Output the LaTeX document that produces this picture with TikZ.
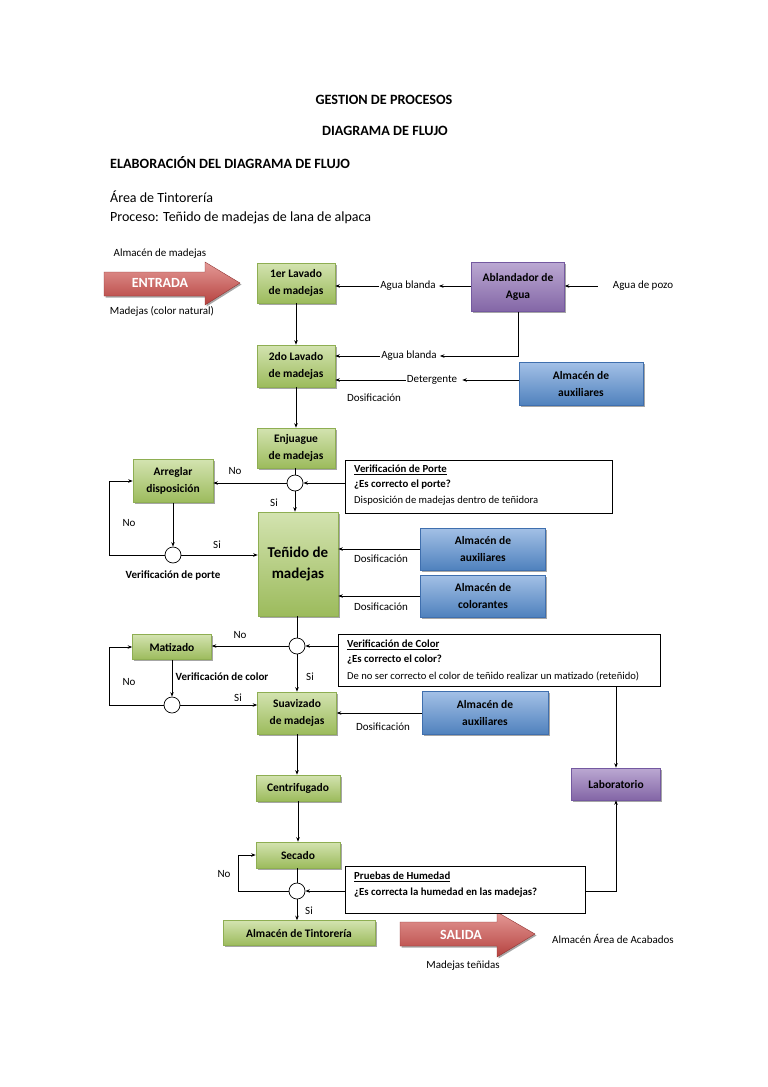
\documentclass[tikz,border=0pt]{standalone}
\usepackage{fontspec}
\setmainfont{Carlito}
\usetikzlibrary{shadows,arrows.meta,calc}
\definecolor{gtop}{HTML}{D3E3B0}
\definecolor{gbot}{HTML}{9CBB5C}
\definecolor{gbord}{HTML}{8EAE52}
\definecolor{ptop}{HTML}{BBA8D2}
\definecolor{pbot}{HTML}{8366A6}
\definecolor{pbord}{HTML}{7459A0}
\definecolor{btop}{HTML}{A3C0E6}
\definecolor{bbot}{HTML}{4F81BD}
\definecolor{bbord}{HTML}{3F6FAE}
\definecolor{rtop}{HTML}{E49A97}
\definecolor{rbot}{HTML}{B5413E}
\begin{document}
\begin{tikzpicture}[x=1pt,y=-1pt,
  shad/.style={drop shadow={shadow xshift=1.5pt,shadow yshift=-1.5pt,opacity=0.35,fill=black}},
  boxtxt/.style={font=\bfseries\fontsize{11.5}{17}\selectfont, align=center, inner sep=0pt},
  gbox/.style={shad, boxtxt, draw=gbord, line width=0.6pt, top color=gtop, bottom color=gbot},
  pbox/.style={shad, boxtxt, draw=pbord, line width=0.6pt, top color=ptop, bottom color=pbot},
  bbox/.style={shad, boxtxt, draw=bbord, line width=0.6pt, top color=btop, bottom color=bbot},
  decis/.style={circle, draw, fill=white, line width=0.7pt, minimum size=16pt, inner sep=0pt},
  info/.style={draw, line width=0.8pt, fill=white, inner sep=0pt},
  lbl/.style={font=\fontsize{11}{13}\selectfont, inner sep=1pt},
  blbl/.style={font=\bfseries\fontsize{11}{13}\selectfont, inner sep=1pt},
  infotxt/.style={font=\fontsize{10.6}{12}\selectfont, inner sep=0pt, anchor=west},
  infob/.style={font=\bfseries\fontsize{10.8}{12}\selectfont, inner sep=0pt, anchor=west},
  arw/.style={-{Stealth[length=4.5pt,width=3.5pt]}, line width=0.8pt},
  ln/.style={line width=0.8pt},
  title/.style={font=\bfseries\fontsize{14.2}{16}\selectfont, inner sep=0pt},
  body/.style={font=\fontsize{14}{16}\selectfont, inner sep=0pt, anchor=west},
  arrowtxt/.style={font=\bfseries\fontsize{14}{16}\selectfont, text=white, inner sep=0pt}
]
\useasboundingbox[fill=white] (0,0) rectangle (768,1087);

% headings
\node[title] (t1) at (384,100) {GESTION DE PROCESOS};
\node[title] (t2) at (385,131) {DIAGRAMA DE FLUJO};
\node[title, anchor=west] (t3) at (110,163) {ELABORACIÓN DEL DIAGRAMA DE FLUJO};
\node[body] (t4) at (110,197) {Área de Tintorería};
\node[body] (t5) at (110,218) {Proceso: Teñido de madejas de lana de alpaca};

% ENTRADA arrow
\path[shad, top color=rtop, bottom color=rbot, draw=rbot!80!black, line width=0.4pt]
  (104,272) -- (205,272) -- (205,262) -- (240,283) -- (205,305) -- (205,296) -- (104,296) -- cycle;
\node[arrowtxt] (entrada) at (160,283) {ENTRADA};
\node[lbl] (almmad) at (160,254) {Almacén de madejas};
\node[lbl] (madnat) at (162,311) {Madejas (color natural)};

% SALIDA arrow
\path[shad, top color=rtop, bottom color=rbot, draw=rbot!80!black, line width=0.4pt]
  (400,922) -- (497,922) -- (497,912) -- (535,934) -- (497,957) -- (497,946) -- (400,946) -- cycle;
\node[arrowtxt] (salida) at (461,935) {SALIDA};
\node[lbl, anchor=west] (acab) at (551,939) {Almacén Área de Acabados};
\node[lbl] (madten) at (463,966) {Madejas teñidas};

% green boxes
\node[gbox, minimum width=78pt, minimum height=40pt] (lav1) at (296,283) {1er Lavado\\de madejas};
\node[gbox, minimum width=78pt, minimum height=42pt] (lav2) at (296,366) {2do Lavado\\de madejas};
\node[gbox, minimum width=78pt, minimum height=40pt] (enj) at (296,448) {Enjuague\\de madejas};
\node[gbox, minimum width=80pt, minimum height=43pt] (arr) at (173,481) {Arreglar\\disposición};
\node[gbox, minimum width=80pt, minimum height=104pt, font=\bfseries\fontsize{15}{21}\selectfont] (ten) at (298,564) {Teñido de\\madejas};
\node[gbox, minimum width=79pt, minimum height=25pt] (mat) at (172,647) {Matizado};
\node[gbox, minimum width=79pt, minimum height=42pt] (sua) at (297,713) {Suavizado\\de madejas};
\node[gbox, minimum width=84pt, minimum height=26pt] (cen) at (298,788) {Centrifugado};
\node[gbox, minimum width=84pt, minimum height=26pt] (sec) at (298,855) {Secado};
\node[gbox, minimum width=152pt, minimum height=25pt] (alt) at (299,933) {Almacén de Tintorería};

% purple
\node[pbox, minimum width=93pt, minimum height=49pt] (abl) at (518,287) {Ablandador de\\Agua};
\node[pbox, minimum width=89pt, minimum height=32pt] (lab) at (616,784) {Laboratorio};

% blue
\node[bbox, minimum width=124pt, minimum height=43pt] (aux1) at (581,384) {Almacén de\\auxiliares};
\node[bbox, minimum width=125pt, minimum height=42pt] (aux2) at (483,549) {Almacén de\\auxiliares};
\node[bbox, minimum width=125pt, minimum height=42pt] (col) at (483,596) {Almacén de\\colorantes};
\node[bbox, minimum width=126pt, minimum height=43pt] (aux3) at (485,713) {Almacén de\\auxiliares};

% decisions
\node[decis] (c1) at (295,483) {};
\node[decis] (c2) at (173,555) {};
\node[decis] (c3) at (297,646) {};
\node[decis] (c4) at (172,705) {};
\node[decis] (c5) at (297,891) {};

% info boxes
\node[info, minimum width=267pt, minimum height=53pt] (vp) at (478.5,486.5) {};
\node[infob] (vp1) at (354,470) {\underline{Verificación de Porte}};
\node[infob] (vp2) at (354,485) {¿Es correcto el porte?};
\node[infotxt] (vp3) at (354,501) {Disposición de madejas dentro de teñidora};

\node[info, minimum width=322pt, minimum height=52pt] (vc) at (499,660) {};
\node[infob] (vc1) at (347,645) {\underline{Verificación de Color}};
\node[infob] (vc2) at (347,660) {¿Es correcto el color?};
\node[infotxt] (vc3) at (347,676) {De no ser correcto el color de teñido realizar un matizado (reteñido)};

\node[info, minimum width=240pt, minimum height=47pt] (ph) at (465,889.5) {};
\node[infob] (ph1) at (354,877) {\underline{Pruebas de Humedad}};
\node[infob] (ph2) at (354,893) {¿Es correcta la humedad en las madejas?};

% side labels
\node[lbl] (pozo) at (643,286) {Agua de pozo};
\node[lbl] (agua1) at (408,286) {Agua blanda};
\node[lbl] (agua2) at (409,356) {Agua blanda};
\node[lbl] (det) at (432,380) {Detergente};
\node[lbl] (dos1) at (374,398) {Dosificación};
\node[lbl] (dos2) at (381,559) {Dosificación};
\node[lbl] (dos3) at (381,607) {Dosificación};
\node[lbl] (dos4) at (383,727) {Dosificación};
\node[lbl] (no1) at (235,471) {No};
\node[lbl] (si1) at (274,503) {Si};
\node[lbl] (no2) at (129,523) {No};
\node[lbl] (si2) at (217,545) {Si};
\node[blbl] (vdp) at (173,575) {Verificación de porte};
\node[lbl] (no3) at (240,635) {No};
\node[lbl] (si3) at (310,677) {Si};
\node[blbl] (vdc) at (222,677) {Verificación de color};
\node[lbl] (no4) at (129,682) {No};
\node[lbl] (si4) at (238,698) {Si};
\node[lbl] (no5) at (224,874) {No};
\node[lbl] (si5) at (309,911) {Si};

% connectors
\draw[arw, shorten <=14pt] (pozo.west) -- (pozo.west -| abl.east);
\draw[arw, shorten >=2pt] (abl.west |- agua1) -- (agua1.east);
\draw[arw] (agua1.west) -- (agua1.west -| lav1.east);
\draw[arw, shorten >=2pt] (abl.south) |- (agua2.east);
\draw[arw] (agua2.west) -- (agua2.west -| lav2.east);
\draw[arw, shorten >=4pt] (aux1.west |- det) -- (det.east);
\draw[arw] (det.west) -- (det.west -| lav2.east);

\draw[arw] (lav1.south) -- (lav2.north);
\draw[arw] (lav2.south) -- (enj.north);
\draw[ln] (enj.south -| c1) -- (c1.north);
\draw[arw] (vp.west |- c1) -- (c1.east);
\draw[arw] (c1.west) -- (c1.west -| arr.east);
\draw[arw] (c1.south) -- (c1.south |- ten.north);
\draw[arw] (arr.south) -- (c2.north);
\draw[arw] (c2.west) -- ++(-55,0) |- (arr.west);
\draw[arw] (c2.east) -- (c2.east -| ten.west);
\draw[arw] (aux2.west) -- (aux2.west -| ten.east);
\draw[arw] (col.west) -- (col.west -| ten.east);

\draw[ln] (ten.south -| c3) -- (c3.north);
\draw[arw] (vc.west |- c3) -- (c3.east);
\draw[arw] (c3.west) -- (c3.west -| mat.east);
\draw[arw] (c3.south) -- (sua.north);
\draw[arw] (mat.south) -- (c4.north);
\draw[arw] (c4.west) -- ++(-54,0) |- (mat.west);
\draw[arw] (c4.east) -- (c4.east -| sua.west);
\draw[arw] (aux3.west) -- (aux3.west -| sua.east);

\draw[arw] (sua.south) -- (sua.south |- cen.north);
\draw[arw] (cen.south) -- (sec.north);
\draw[ln] (sec.south -| c5) -- (c5.north);
\draw[arw] (ph.west |- c5) -- (c5.east);
\draw[arw] (c5.west) -- ++(-50,0) |- (sec.west);
\draw[arw] (c5.south) -- (c5.south |- alt.north);

\draw[arw] (lab.north |- vc.south) -- (lab.north);
\draw[arw] (ph.east |- c5) -| (lab.south);
\end{tikzpicture}
\end{document}
